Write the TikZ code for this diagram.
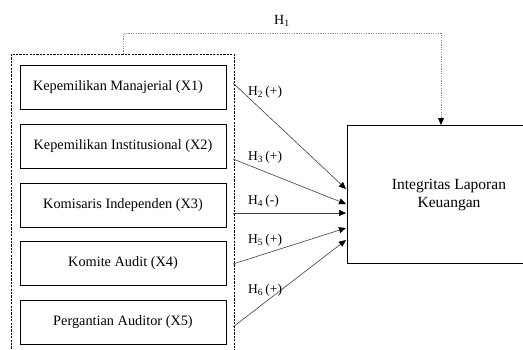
\documentclass[tikz,border=0pt]{standalone}
\usepackage{fontspec}
\setmainfont{Liberation Serif}
\usetikzlibrary{arrows.meta}
\begin{document}
\begin{tikzpicture}[x=1pt,y=-1pt,
  varbox/.style={draw=black,line width=1pt,minimum width=206pt,minimum height=44pt,inner sep=0pt,font=\fontsize{14.3}{16}\selectfont},
  hyp/.style={anchor=west,inner sep=0pt,font=\fontsize{13.5}{16}\selectfont},
  link/.style={draw=black!75,line width=0.6pt,-{Triangle[length=7pt,width=6pt,color=black]}},
  outline/.style={draw=black,line width=1pt,dash pattern=on 2.2pt off 1.2pt},
  dotline/.style={draw=black!45,line width=1pt,dash pattern=on 1.2pt off 1.2pt}]
\useasboundingbox (0,0) rectangle (523,349);
\clip (0,0) rectangle (523,349);
\fill[white] (0,0) rectangle (523,349);
% outer dashed group
\draw[outline] (11,54) rectangle (234,365);
\coordinate (gtop) at (123,54);
% variable boxes
\node[varbox] (b1) at (123,87) {Kepemilikan Manajerial (X1)\hspace*{10pt}};
\node[varbox] (b2) at (123,146) {Kepemilikan Institusional (X2)};
\node[varbox] (b3) at (123,205) {Komisaris Independen (X3)};
\node[varbox] (b4) at (123,263.5) {Komite Audit (X4)};
\node[varbox] (b5) at (123,322.5) {Pergantian Auditor (X5)};
% dependent box
\draw[line width=1pt] (560,125) -- (347,125) -- (347,263) -- (560,263);
\node[align=center,inner sep=0pt,font=\fontsize{15.5}{17.5}\selectfont] (y) at (449,195) {Integritas Laporan\\Keuangan};
\coordinate (ytop) at (441,125);
% H1
\coordinate (c1) at (123,33);
\coordinate (c2) at (441,33);
\draw[dotline,-{Triangle[length=7pt,width=6pt,color=black,sep=0pt]}] (gtop) -- (c1) -- (c2) -- (ytop);
\node[inner sep=0pt,font=\fontsize{14}{16}\selectfont] (h1) at (282,21) {H\textsubscript{1}};
% arrow start and end points
\coordinate (s1) at (233,83);
\coordinate (s2) at (233,159);
\coordinate (s3) at (233,213);
\coordinate (s4) at (233,264);
\coordinate (s5) at (233,327);
\coordinate (e1) at (346,189);
\coordinate (e2) at (346,204);
\coordinate (e3) at (346,213);
\coordinate (e4) at (346,228);
\coordinate (e5) at (346,240);
\draw[link] (s1) -- (e1);
\draw[link] (s2) -- (e2);
\draw[link] (s3) -- (e3);
\draw[link] (s4) -- (e4);
\draw[link] (s5) -- (e5);
\node[hyp] (h2) at (248,92) {H\textsubscript{2}\,(+)};
\node[hyp] (h3) at (248,157) {H\textsubscript{3}\,(+)};
\node[hyp] (h4) at (248,201) {H\textsubscript{4}\,(-)};
\node[hyp] (h5) at (248,240) {H\textsubscript{5}\,(+)};
\node[hyp] (h6) at (248,290) {H\textsubscript{6}\,(+)};
\end{tikzpicture}
\end{document}
